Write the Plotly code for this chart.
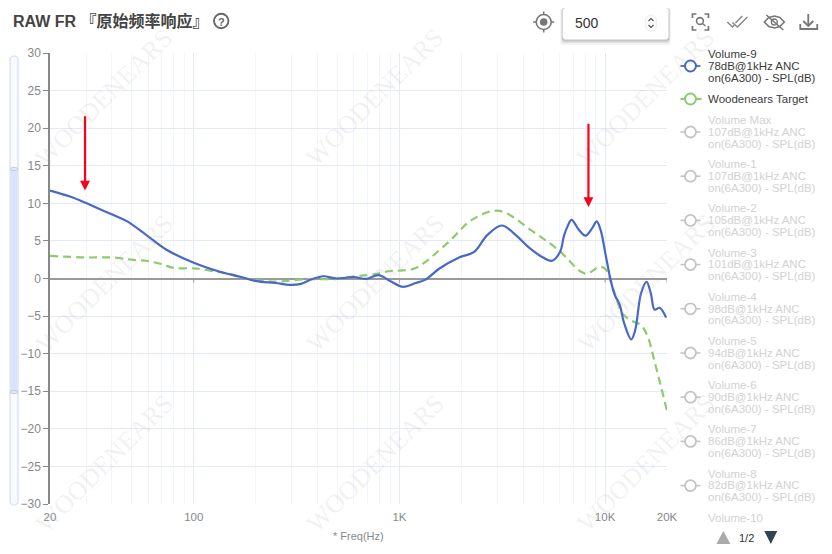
import math
import plotly.graph_objects as go

# ---------- data ----------
FREQ_BLUE = [20, 25, 29.6, 35, 41, 47.5, 60, 74, 100, 138, 170, 202, 250, 293, 329, 375, 426, 496, 600, 690, 790, 910,
             1040, 1200, 1340, 1560, 1950, 2300, 2680, 3150, 3670, 4270, 5020, 5540, 6050, 6300, 6560, 6870, 7450, 8030, 8660,
             9100, 9500, 10100, 10600, 11150, 11750, 12400, 13400, 14000, 14950, 15900, 16700, 17400, 18400, 19800]
DB_BLUE = [11.7, 10.9, 10.1, 9.2, 8.4, 7.6, 5.6, 3.8, 2.1, 0.8, 0.2, -0.35, -0.6, -0.85, -0.75, -0.1, 0.3, 0.0, 0.2, -0.05, 0.45, -0.4,
           -1.1, -0.6, -0.15, 1.3, 2.8, 3.5, 5.8, 7.05, 5.8, 4.1, 2.75, 2.37, 3.6, 5.6, 6.9, 7.8, 6.5, 5.7, 6.7,
           7.6, 6.5, 2.9, 0.0, -2.2, -3.4, -6.0, -8.1, -6.9, -2.0, -0.45, -2.0, -4.15, -3.9, -5.2]
FREQ_TARGET = [20, 30, 40, 50, 60, 70, 80, 100, 130, 150, 187, 250, 350, 500, 600, 700, 800, 900, 1000, 1200,
               1740, 2250, 3050, 4430, 5930, 8030, 9500, 10230, 10600, 11150, 12180, 13400, 14950, 16100, 17500, 20000]
DB_TARGET = [3.0, 2.8, 2.8, 2.5, 2.3, 1.9, 1.4, 1.35, 0.9, 0.6, -0.1, -0.4, -0.1, -0.05, 0.3, 0.45, 0.7, 1.0, 1.05, 1.4,
             4.9, 7.8, 9.0, 6.3, 3.8, 0.65, 1.6, 1.0, -0.15, -2.0, -4.7, -5.6, -6.2, -7.7, -11.3, -17.6]
X_TICKS = [20, 100, 1000, 10000, 20000]
X_LABELS = ["20", "100", "1K", "10K", "20K"]
X_MINOR = [30, 40, 50, 60, 70, 80, 90, 200, 300, 400, 500, 600, 700, 800, 900,
           2000, 3000, 4000, 5000, 6000, 7000, 8000, 9000]
Y_TICKS = list(range(-30, 31, 5))
ARROW_FREQS = [29.6, 8300]
ARROW_TOPS = [21.8, 20.8]
ARROW_TIPS = [11.7, 9.5]
LEGEND_ACTIVE = [
    ["Volume-9", "78dB@1kHz ANC", "on(6A300) - SPL(dB)"],
    ["Woodenears Target"],
]
LEGEND_OFF = [
    ["Volume Max", "107dB@1kHz ANC"], ["Volume-1", "107dB@1kHz ANC"], ["Volume-2", "105dB@1kHz ANC"],
    ["Volume-3", "101dB@1kHz ANC"], ["Volume-4", "98dB@1kHz ANC"], ["Volume-5", "94dB@1kHz ANC"],
    ["Volume-6", "90dB@1kHz ANC"], ["Volume-7", "86dB@1kHz ANC"], ["Volume-8", "82dB@1kHz ANC"],
]
LEGEND_SUFFIX = "on(6A300) - SPL(dB)"

# ---------- layout constants (pixels) ----------
W, H = 832, 554
L, R, T, B = 49.5, 667.5, 53, 504
BLUE, GREEN = "#4767c9", "#8dcc6b"
OFF = "#d2d2d2"
SANS = "Liberation Sans, Arial, sans-serif"


def px(x):
    return (x - L) / (R - L)


def py(y):
    return (B - y) / (B - T)


def path(pts, close=False):
    s = "M" + " L".join(f"{px(x):.5f},{py(y):.5f}" for x, y in pts)
    return s + (" Z" if close else "")


def rrect(x0, y0, x1, y1, r):
    k = 0.45 * r
    segs = [
        f"M{px(x0+r):.5f},{py(y0):.5f}", f"L{px(x1-r):.5f},{py(y0):.5f}",
        f"C{px(x1-k):.5f},{py(y0):.5f} {px(x1):.5f},{py(y0+k):.5f} {px(x1):.5f},{py(y0+r):.5f}",
        f"L{px(x1):.5f},{py(y1-r):.5f}",
        f"C{px(x1):.5f},{py(y1-k):.5f} {px(x1-k):.5f},{py(y1):.5f} {px(x1-r):.5f},{py(y1):.5f}",
        f"L{px(x0+r):.5f},{py(y1):.5f}",
        f"C{px(x0+k):.5f},{py(y1):.5f} {px(x0):.5f},{py(y1-k):.5f} {px(x0):.5f},{py(y1-r):.5f}",
        f"L{px(x0):.5f},{py(y0+r):.5f}",
        f"C{px(x0):.5f},{py(y0+k):.5f} {px(x0+k):.5f},{py(y0):.5f} {px(x0+r):.5f},{py(y0):.5f}", "Z",
    ]
    return " ".join(segs)


shapes, annos = [], []


def add_path(d, color="#777", width=1.5, fill="rgba(0,0,0,0)", layer="above"):
    shapes.append(dict(type="path", xref="paper", yref="paper", path=d, layer=layer,
                       line=dict(color=color, width=width), fillcolor=fill))


def add_line(pts, color="#777", width=1.5, dash="solid"):
    shapes.append(dict(type="path", xref="paper", yref="paper", path=path(pts), layer="above",
                       line=dict(color=color, width=width, dash=dash)))


def add_circle(cx, cy, r, color="#777", width=1.5, fill="rgba(0,0,0,0)"):
    shapes.append(dict(type="circle", xref="paper", yref="paper", layer="above",
                       x0=px(cx - r), x1=px(cx + r), y0=py(cy + r), y1=py(cy - r),
                       line=dict(color=color, width=width), fillcolor=fill))


def add_text(x, y, text, size=11, color="#333", anchor="left", family=SANS, angle=0):
    annos.append(dict(xref="paper", yref="paper", x=px(x), y=py(y), text=text, showarrow=False,
                      xanchor=anchor, yanchor="middle", textangle=angle, borderpad=0,
                      font=dict(size=size, color=color, family=family)))


# watermark
for wy in (98, 283, 463):
    for wx in (104, 375, 646):
        add_text(wx, wy, "WOODENEARS", size=26, color="rgba(170,170,170,0.17)", anchor="center",
                 family="Liberation Serif, serif", angle=-45)

# title and toolbar
add_text(11.5, 21, "<b>RAW FR 『原始频率响应』</b>", size=16, color="#444",
         family="Liberation Sans, Noto Sans CJK SC, sans-serif")
add_circle(221, 21, 7.2, color="#666", width=1.9)
add_text(221, 21.5, "<b>?</b>", size=11, color="#666", anchor="center")

add_circle(544, 22, 7.5, color="#777", width=1.6)
add_circle(544, 22, 3.8, color="#777", width=0, fill="#777")
for a, b in (((544, 11.5), (544, 14.5)), ((544, 29.5), (544, 32.5)), ((533.5, 22), (536.5, 22)), ((551.5, 22), (554.5, 22))):
    add_line([a, b], color="#777", width=1.6)

for off, col in ((5, "rgba(0,0,0,0.05)"), (3, "rgba(0,0,0,0.07)"), (1.5, "rgba(0,0,0,0.12)")):
    add_path(rrect(563 - off / 2, 8, 669 + off / 2, 40 + off, 3), color="rgba(0,0,0,0)", width=0, fill=col)
add_path(rrect(563, 8, 669, 39.5, 3), color="rgba(0,0,0,0)", width=0, fill="#ffffff")
add_text(574, 23, "500", size=14, color="#333")
add_path(rrect(646, 15, 657, 31, 5), color="#eeeeee", width=1, fill="#fafafa")
add_line([(649, 21), (651.5, 18.5), (654, 21)], color="#555", width=1.1)
add_line([(649, 25), (651.5, 27.5), (654, 25)], color="#555", width=1.1)

# scan icon
for pts in ([(693, 18), (693, 14), (697, 14)], [(705, 14), (709, 14), (709, 18)],
            [(693, 26), (693, 30), (697, 30)], [(705, 30), (709, 30), (709, 26)]):
    add_line(pts, color="#777", width=1.7)
add_circle(700.5, 21, 3.4, color="#777", width=1.6)
add_line([(703, 23.5), (706, 26)], color="#777", width=1.6)
# double check icon
add_line([(728, 22), (733, 27), (735, 25)], color="#888", width=1.5)
add_line([(733, 22.5), (738, 27), (748, 17)], color="#888", width=1.5)
add_line([(736, 23), (743, 16)], color="#888", width=1.5)
# eye-off icon
add_path(path([(765, 22), (769.5, 17.5), (775, 16), (780.5, 17.5), (785, 22), (780.5, 26.5), (775, 28), (769.5, 26.5)], close=True),
         color="#777", width=1.6)
add_line([(767, 15), (784, 30)], color="#777", width=1.6)
add_circle(775, 22, 3, color="#777", width=1.4)
# download icon
add_line([(809, 14), (809, 25)], color="#777", width=1.8)
add_line([(804, 21), (809, 26), (814, 21)], color="#777", width=1.8)
add_line([(801, 24), (801, 29), (818, 29), (818, 24)], color="#777", width=1.8)

# vertical zoom slider
add_path(rrect(9.5, 56, 17.5, 505, 3.5), color="#cfd9ef", width=1, fill="#f8faff")
shapes.append(dict(type="rect", xref="paper", yref="paper", layer="above", x0=px(10), x1=px(17), y0=py(392), y1=py(169),
                   line=dict(width=0), fillcolor="#d9e4fb"))
for hy in (169, 392):
    shapes.append(dict(type="circle", xref="paper", yref="paper", layer="above", x0=px(9.5), x1=px(17.5),
                       y0=py(hy + 1.5), y1=py(hy - 1.5), line=dict(color="#b4c2dc", width=0.8), fillcolor="#e6ecf8"))

# legend column
text_x = 708
add_line([(681, 66), (701, 66)], color=BLUE, width=1.8)
add_circle(691, 66, 5.5, color=BLUE, width=2, fill="#ffffff")
add_line([(681, 99), (702.5, 99)], color=GREEN, width=1.8, dash="6px,9px")
add_circle(691, 99, 5.5, color=GREEN, width=2, fill="#ffffff")
for i, line in enumerate(LEGEND_ACTIVE[0]):
    add_text(text_x, 54.5 + i * 11.8, line, size=11.5, color="#3a3a3a")
add_text(text_x, 99, LEGEND_ACTIVE[1][0], size=11.5, color="#3a3a3a")
for k, entry in enumerate(LEGEND_OFF):
    cy = 132 + k * 44.2
    add_line([(681, cy), (701, cy)], color="#c4c4c4", width=1.6)
    add_circle(691, cy, 5.5, color="#c4c4c4", width=1.8, fill="#ffffff")
    for i, line in enumerate(entry + [LEGEND_SUFFIX]):
        add_text(text_x, cy - 12 + i * 11.8, line, size=11.5, color=OFF)
add_text(text_x, 517.5, "Volume-10", size=11.5, color=OFF)

# pagination
add_path(path([(717, 544), (731, 544), (724, 531)], close=True), color="#aaaaaa", width=0, fill="#aaaaaa")
add_text(747.5, 538, "1/2", size=11, color="#333", anchor="center")
add_path(path([(765, 531), (778, 531), (771.5, 544)], close=True), color="#2f4554", width=0, fill="#2f4554")

# axis name
add_text(358.5, 536, "* Freq(Hz)", size=11, color="#888", anchor="center")

# ticks on the zero line
for f in X_TICKS[1:]:
    shapes.append(dict(type="line", xref="x", yref="y", x0=f, x1=f, y0=0, y1=-0.55, layer="above",
                       line=dict(color="#999", width=1)))

# arrows
for f, top, tip in zip(ARROW_FREQS, ARROW_TOPS, ARROW_TIPS):
    annos.append(dict(xref="x", yref="y", axref="x", ayref="y", x=math.log10(f), y=tip, ax=math.log10(f), ay=top,
                      showarrow=True, arrowhead=2, arrowsize=0.9, arrowwidth=2.2, arrowcolor="#fb0018", text=""))

fig = go.Figure()
fig.add_trace(go.Scatter(x=FREQ_TARGET, y=DB_TARGET, mode="lines", name="Woodenears Target",
                         line=dict(color=GREEN, width=2.2, dash="8px,5px", shape="spline", smoothing=1)))
fig.add_trace(go.Scatter(x=FREQ_BLUE, y=DB_BLUE, mode="lines", name=" ".join(LEGEND_ACTIVE[0]),
                         line=dict(color=BLUE, width=2.2, shape="spline", smoothing=1)))

fig.update_layout(
    width=W, height=H, autosize=False, showlegend=False,
    paper_bgcolor="#ffffff", plot_bgcolor="#ffffff",
    margin=dict(l=L, r=W - R, t=T, b=H - B, pad=0),
    shapes=shapes, annotations=annos,
    font=dict(family=SANS),
    xaxis=dict(type="log", range=[math.log10(20), math.log10(20000)], tickmode="array",
               tickvals=X_TICKS, ticktext=X_LABELS, showgrid=True, gridcolor="#e5e9f6", gridwidth=1,
               minor=dict(tickmode="array", tickvals=X_MINOR, showgrid=True, gridcolor="#f3f5fc", gridwidth=1, ticks=""),
               ticks="outside", ticklen=2, tickcolor="rgba(0,0,0,0)", zeroline=False, showline=False,
               tickfont=dict(size=11.5, color="#888")),
    yaxis=dict(range=[-30, 30], tickmode="array", tickvals=Y_TICKS, showgrid=True, gridcolor="#e5e9f6", gridwidth=1,
               zeroline=True, zerolinecolor="#9a9a9a", zerolinewidth=1.6, showline=True, linecolor="#888888", linewidth=1.5,
               ticks="outside", ticklen=5, tickcolor="#888888", tickwidth=1,
               tickfont=dict(size=12, color="#888")),
)
fig.write_html("out.html", post_script="document.body.style.margin='0';document.body.style.overflow='hidden';",
               config=dict(displayModeBar=False))
